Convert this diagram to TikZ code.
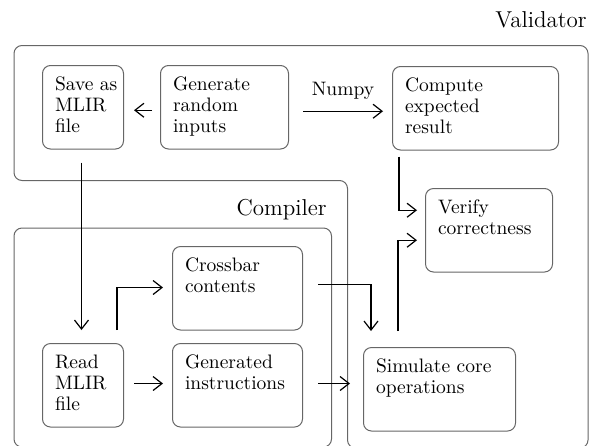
\documentclass[tikz,border=0pt]{standalone}
\usetikzlibrary{arrows.meta,calc}

\definecolor{frame}{gray}{0.4}

% text of a step box: indented, top-aligned, fixed height
\newcommand\celltext[2]{\hspace*{6.25pt}\parbox[t][31.55pt][t]{\dimexpr#1-6.25pt\relax}{\strut#2}}

\tikzset{
  stepbox/.style={draw=frame, line width=0.5pt, rounded corners=4pt,
    anchor=north west, inner xsep=0pt, inner ysep=5.1pt,
    font=\fontsize{9.75}{10.6}\selectfont},
  group/.style={draw=frame, line width=0.5pt, rounded corners=4pt},
  grouplabel/.style={anchor=base east, inner sep=0pt,
    font=\fontsize{11.5}{13}\selectfont},
  flow/.style={-{Straight Barb[length=4.5pt,width=7pt]}, line width=0.6pt},
  flowlabel/.style={anchor=base, inner sep=0pt,
    font=\fontsize{9.75}{10.6}\selectfont},
}

\begin{document}
\begin{tikzpicture}[x=0.5pt,y=-0.5pt]
\useasboundingbox (0,0) rectangle (598,445);
\clip (0,0) rectangle (598,445);

% groups
\draw[group] (14,45.5) -- (588,45.5) -- (588,448) -- (347.5,448)
  -- (347.5,180.5) -- (14,180.5) -- cycle;
\draw[group] (14,228) rectangle (331.5,447);
\node[grouplabel] (validatorlbl) at (587,27.3) {Validator};
\node[grouplabel] (compilerlbl) at (327,215) {Compiler};

% steps
\node[stepbox] (save)   at (42,65)   {\celltext{40.5pt}{Save as\\MLIR\\file}};
\node[stepbox] (gen)    at (160,65)  {\celltext{64pt}{Generate\\random\\inputs}};
\node[stepbox] (comp)   at (392,66)  {\celltext{83pt}{Compute\\expected\\result}};
\node[stepbox] (verify) at (425,188) {\celltext{63.5pt}{Verify\\correctness}};
\node[stepbox] (cross)  at (172,246) {\celltext{65pt}{Crossbar\\contents}};
\node[stepbox] (read)   at (42,343)  {\celltext{40.5pt}{Read\\MLIR\\file}};
\node[stepbox] (instr)  at (172,343) {\celltext{65pt}{Generated\\instructions}};
\node[stepbox] (sim)    at (363,347) {\celltext{76pt}{Simulate core\\operations}};

% flow
\draw[flow] ($(gen.west)+(-8,3)$) -- ($(save.east)+(10,3)$);
\draw[flow] ($(gen.east)+(14,4)$) --
  node[flowlabel, midway, yshift=7.9pt] (numpy) {Numpy}
  ($(comp.west)+(-9,3)$);
\draw[flow] ($(save.south)+(-1.5,13)$) -- ($(read.north)+(-1.5,-13)$);
\draw[flow] ($(read.north)+(34,-13)$) |- ($(cross.west)+(-9,-0.75)$);
\draw[flow] ($(read.east)+(10,-1.75)$) -- ($(instr.west)+(-9,-1.75)$);
\draw[flow] ($(cross.east)+(15,-3.5)$) -| ($(sim.north west)+(8,-16)$);
\draw[flow] ($(instr.east)+(15,-1.75)$) -- ($(sim.west)+(-13,-5.75)$);
\draw[flow] ($(sim.north west)+(35,-16)$) |- ($(verify.west)+(-8,10)$);
\draw[flow] ($(comp.south west)+(7,6)$) |- ($(verify.west)+(-8,-20)$);
\end{tikzpicture}
\end{document}
